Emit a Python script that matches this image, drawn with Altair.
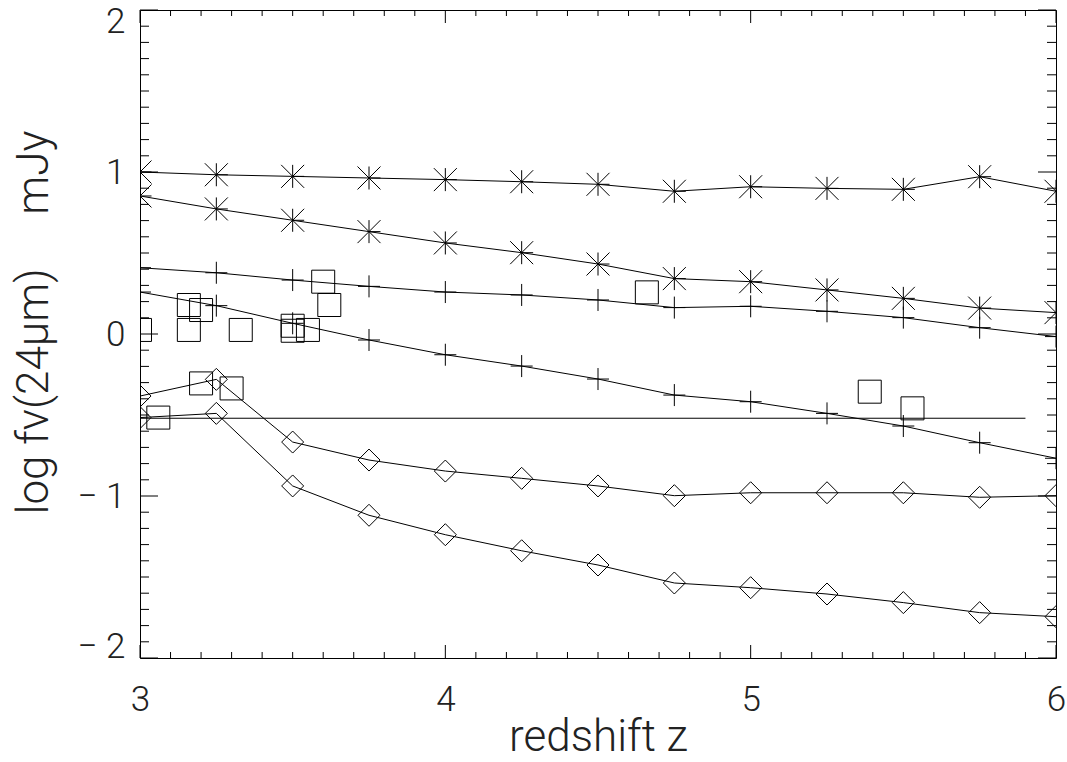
import altair as alt
import pandas as pd

# ---------------- data ----------------
z = [3.0, 3.25, 3.5, 3.75, 4.0, 4.25, 4.5, 4.75, 5.0, 5.25, 5.5, 5.75, 6.0]

star_hi = [1.000, 0.983, 0.973, 0.963, 0.953, 0.940, 0.924, 0.881, 0.909, 0.899, 0.893, 0.971, 0.881]
star_lo = [0.852, 0.772, 0.702, 0.632, 0.562, 0.502, 0.432, 0.342, 0.323, 0.272, 0.220, 0.160, 0.132]
plus_hi = [0.409, 0.378, 0.333, 0.294, 0.259, 0.241, 0.210, 0.163, 0.171, 0.140, 0.101, 0.039, -0.016]
plus_lo = [0.259, 0.175, 0.066, -0.037, -0.128, -0.198, -0.278, -0.377, -0.418, -0.490, -0.568, -0.671, -0.767]
diam_hi = [-0.383, -0.280, -0.667, -0.778, -0.846, -0.891, -0.938, -0.998, -0.980, -0.980, -0.980, -1.008, -0.998]
diam_lo = [-0.516, -0.490, -0.938, -1.119, -1.239, -1.338, -1.426, -1.537, -1.566, -1.605, -1.658, -1.720, -1.745]

obs_z = [3.00, 3.06, 3.16, 3.16, 3.20, 3.20, 3.30, 3.33, 3.50, 3.50, 3.55, 3.60, 3.62, 4.66, 5.39, 5.53]
obs_v = [0.025, -0.516, 0.179, 0.025, 0.148, -0.305, -0.336, 0.025, 0.051, 0.020, 0.025, 0.323, 0.179, 0.257, -0.356, -0.459]

limit_z = [3.0, 5.9]
limit_v = [-0.52, -0.52]

x_major = [3, 4, 5, 6]
x_minor = [round(3 + i / 10, 1) for i in range(31) if i % 10 != 0]
y_major = [-2, -1, 0, 1, 2]
y_minor = [round(-2 + i / 10, 1) for i in range(41) if i % 10 != 0]

x_labels = [3, 4, 5, 6]
y_labels = [-2, -1, 0, 1, 2]

x_title = "redshift z"
NB = "\u00a0"
y_title = "log fν(24μm)" + NB * 5 + "mJy"

# ---------------- styling ----------------
W, H = 916, 648
FONT = "Roboto"
INK = "black"
TEXT = "#222"

ASTERISK = "M0,-1L0,1M-1,-1L1,1M-1,1L1,-1M0,0L1,0"
PLUS = "M-1,0L1,0M0,-1L0,1"

x_scale = alt.Scale(domain=[3, 6], nice=False, zero=False)
y_scale = alt.Scale(domain=[-2, 2], nice=False, zero=False)

x_axis = alt.Axis(
    values=x_labels, title=x_title, grid=False, domain=False, ticks=False, tickSize=0,
    labelFlush=False, labelFont=FONT, labelFontSize=35, labelFontWeight=300, labelColor=TEXT,
    labelPadding=24, titleFont=FONT, titleFontSize=44, titleFontWeight=300, titleColor=TEXT,
    titleBaseline="alphabetic", titleY=92,
)
y_axis = alt.Axis(
    values=y_labels, title=y_title, grid=False, domain=False, ticks=False, tickSize=0,
    labelFlush=True, labelFlushOffset=6, labelFont=FONT, labelFontSize=35, labelFontWeight=300,
    labelColor=TEXT, labelPadding=15,
    labelExpr="datum.value < 0 ? '\u2212 ' + (-datum.value) : datum.label",
    titleFont=FONT, titleFontSize=44, titleFontWeight=300, titleColor=TEXT,
    titleBaseline="bottom", titleX=-84, titleY=312,
)


def X(field="z"):
    return alt.X(f"{field}:Q", scale=x_scale, axis=x_axis)


def Y(field="v"):
    return alt.Y(f"{field}:Q", scale=y_scale, axis=y_axis)


# ---------------- tables ----------------
series = {
    "star_hi": (star_hi, "star"),
    "star_lo": (star_lo, "star"),
    "plus_hi": (plus_hi, "plus"),
    "plus_lo": (plus_lo, "plus"),
    "diam_hi": (diam_hi, "diam"),
    "diam_lo": (diam_lo, "diam"),
}
rows = []
for name, (vals, kind) in series.items():
    for zz, vv in zip(z, vals):
        rows.append({"z": zz, "v": vv, "series": name, "kind": kind})
models = pd.DataFrame(rows)
obs = pd.DataFrame({"z": obs_z, "v": obs_v})
limit = pd.DataFrame({"z": limit_z, "v": limit_v})

# ---------------- layers ----------------
lines = alt.Chart(models).mark_line(color=INK, strokeWidth=1, clip=True).encode(
    x=X(), y=Y(), detail="series:N", order="z:Q"
)
limit_line = alt.Chart(limit).mark_line(color=INK, strokeWidth=1, clip=True).encode(x=X(), y=Y())


def markers(kind, shape, size):
    return alt.Chart(models[models.kind == kind]).mark_point(
        shape=shape, filled=False, size=size, stroke=INK, strokeWidth=1, opacity=1, clip=True
    ).encode(x=X(), y=Y())


stars = markers("star", ASTERISK, 529)
pluses = markers("plus", PLUS, 484)
diamonds = markers("diam", "diamond", 484)
squares = alt.Chart(obs).mark_point(
    shape="square", filled=False, size=529, stroke=INK, strokeWidth=1, opacity=1, clip=True
).encode(x=X(), y=Y())


def xticks(vals, length):
    d = pd.DataFrame({"z": vals})
    bottom = alt.Chart(d).mark_rule(color=INK, strokeWidth=1).encode(
        x=X(), y=alt.value(H), y2=alt.value(H - length)
    )
    top = alt.Chart(d).mark_rule(color=INK, strokeWidth=1).encode(
        x=X(), y=alt.value(0), y2=alt.value(length)
    )
    return [bottom, top]


def yticks(vals, length):
    d = pd.DataFrame({"v": vals})
    left = alt.Chart(d).mark_rule(color=INK, strokeWidth=1).encode(
        y=Y(), x=alt.value(0), x2=alt.value(length)
    )
    right = alt.Chart(d).mark_rule(color=INK, strokeWidth=1).encode(
        y=Y(), x=alt.value(W), x2=alt.value(W - length)
    )
    return [left, right]


tick_layers = xticks(x_major, 13) + xticks(x_minor, 6) + yticks(y_major, 18) + yticks(y_minor, 9)

chart = alt.layer(
    *tick_layers, limit_line, lines, stars, pluses, diamonds, squares
).properties(
    width=W,
    height=H,
    autosize=alt.AutoSizeParams(type="none"),
    padding={"left": 140, "top": 10, "right": 11, "bottom": 104},
    background="white",
).configure_view(stroke=INK, strokeWidth=1)

chart.save("out.html", embed_options={"renderer": "svg", "actions": False})
